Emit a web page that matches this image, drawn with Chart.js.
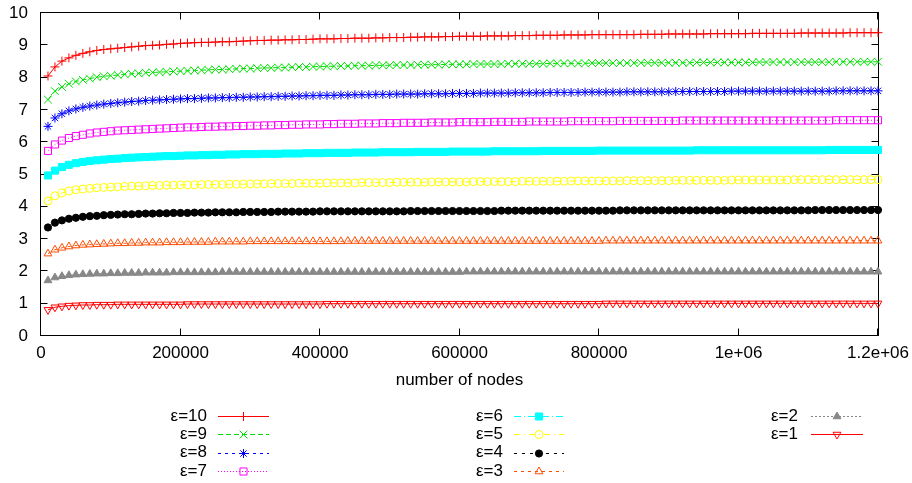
<!DOCTYPE html>
<html>
<head>
<meta charset="utf-8">
<script src="https://cdn.jsdelivr.net/npm/chart.js@4/dist/chart.umd.min.js"></script>
<style>
  html, body { margin: 0; padding: 0; background: #ffffff; }
  canvas { display: block; }
</style>
</head>
<body>
<canvas id="chart" width="912" height="483"></canvas>
<script>
// Number of nodes for every sample
const nodes = [
  10000, 20000, 30000, 40000, 50000, 60000, 70000, 80000, 90000, 100000,
  110000, 120000, 130000, 140000, 150000, 160000, 170000, 180000, 190000, 200000,
  210000, 220000, 230000, 240000, 250000, 260000, 270000, 280000, 290000, 300000,
  310000, 320000, 330000, 340000, 350000, 360000, 370000, 380000, 390000, 400000,
  410000, 420000, 430000, 440000, 450000, 460000, 470000, 480000, 490000, 500000,
  510000, 520000, 530000, 540000, 550000, 560000, 570000, 580000, 590000, 600000,
  610000, 620000, 630000, 640000, 650000, 660000, 670000, 680000, 690000, 700000,
  710000, 720000, 730000, 740000, 750000, 760000, 770000, 780000, 790000, 800000,
  810000, 820000, 830000, 840000, 850000, 860000, 870000, 880000, 890000, 900000,
  910000, 920000, 930000, 940000, 950000, 960000, 970000, 980000, 990000, 1000000,
  1010000, 1020000, 1030000, 1040000, 1050000, 1060000, 1070000, 1080000, 1090000, 1100000,
  1110000, 1120000, 1130000, 1140000, 1150000, 1160000, 1170000, 1180000, 1190000, 1200000
];

const eps10 = [
  8.05, 8.33, 8.51, 8.61, 8.69, 8.75, 8.80, 8.84, 8.87, 8.89,
  8.91, 8.93, 8.95, 8.97, 8.99, 9.00, 9.01, 9.03, 9.04, 9.06,
  9.07, 9.08, 9.09, 9.09, 9.10, 9.11, 9.11, 9.12, 9.13, 9.14,
  9.15, 9.15, 9.16, 9.16, 9.17, 9.17, 9.18, 9.18, 9.19, 9.20,
  9.20, 9.20, 9.21, 9.21, 9.22, 9.22, 9.22, 9.23, 9.23, 9.24,
  9.24, 9.24, 9.25, 9.25, 9.26, 9.26, 9.26, 9.27, 9.27, 9.28,
  9.28, 9.28, 9.28, 9.29, 9.29, 9.29, 9.29, 9.30, 9.30, 9.30,
  9.31, 9.31, 9.31, 9.31, 9.32, 9.32, 9.32, 9.32, 9.33, 9.33,
  9.33, 9.33, 9.33, 9.33, 9.33, 9.34, 9.34, 9.34, 9.34, 9.35,
  9.35, 9.35, 9.35, 9.35, 9.35, 9.36, 9.36, 9.36, 9.36, 9.36,
  9.36, 9.37, 9.37, 9.37, 9.37, 9.37, 9.37, 9.37, 9.38, 9.38,
  9.38, 9.38, 9.38, 9.38, 9.38, 9.39, 9.39, 9.39, 9.39, 9.39
];

const eps9 = [
  7.32, 7.58, 7.71, 7.81, 7.88, 7.93, 7.97, 8.01, 8.04, 8.06,
  8.08, 8.10, 8.12, 8.13, 8.15, 8.16, 8.17, 8.18, 8.19, 8.20,
  8.21, 8.22, 8.23, 8.24, 8.25, 8.25, 8.26, 8.27, 8.28, 8.28,
  8.29, 8.30, 8.30, 8.31, 8.31, 8.32, 8.33, 8.33, 8.34, 8.34,
  8.35, 8.35, 8.36, 8.36, 8.37, 8.37, 8.37, 8.38, 8.38, 8.38,
  8.39, 8.39, 8.39, 8.40, 8.40, 8.40, 8.40, 8.41, 8.41, 8.41,
  8.41, 8.42, 8.42, 8.42, 8.42, 8.42, 8.43, 8.43, 8.43, 8.43,
  8.43, 8.43, 8.44, 8.44, 8.44, 8.44, 8.44, 8.44, 8.45, 8.45,
  8.45, 8.45, 8.45, 8.45, 8.45, 8.46, 8.46, 8.46, 8.46, 8.46,
  8.46, 8.46, 8.46, 8.47, 8.47, 8.47, 8.47, 8.47, 8.47, 8.47,
  8.47, 8.47, 8.48, 8.48, 8.48, 8.48, 8.48, 8.48, 8.48, 8.48,
  8.48, 8.48, 8.48, 8.49, 8.49, 8.49, 8.49, 8.49, 8.49, 8.49
];

const eps8 = [
  6.49, 6.75, 6.88, 6.97, 7.03, 7.08, 7.12, 7.15, 7.18, 7.20,
  7.22, 7.24, 7.26, 7.27, 7.29, 7.30, 7.31, 7.32, 7.33, 7.34,
  7.35, 7.35, 7.36, 7.37, 7.37, 7.38, 7.38, 7.39, 7.39, 7.40,
  7.40, 7.41, 7.41, 7.42, 7.42, 7.43, 7.43, 7.44, 7.44, 7.45,
  7.45, 7.45, 7.46, 7.46, 7.47, 7.47, 7.47, 7.48, 7.48, 7.48,
  7.49, 7.49, 7.49, 7.49, 7.50, 7.50, 7.50, 7.50, 7.51, 7.51,
  7.51, 7.51, 7.52, 7.52, 7.52, 7.52, 7.52, 7.53, 7.53, 7.53,
  7.53, 7.53, 7.54, 7.54, 7.54, 7.54, 7.54, 7.55, 7.55, 7.55,
  7.55, 7.55, 7.55, 7.56, 7.56, 7.56, 7.56, 7.56, 7.56, 7.56,
  7.57, 7.57, 7.57, 7.57, 7.57, 7.57, 7.57, 7.57, 7.58, 7.58,
  7.58, 7.58, 7.58, 7.58, 7.58, 7.58, 7.58, 7.58, 7.58, 7.58,
  7.58, 7.58, 7.58, 7.59, 7.59, 7.59, 7.59, 7.59, 7.59, 7.59
];

const eps7 = [
  5.73, 5.93, 6.05, 6.13, 6.19, 6.23, 6.27, 6.30, 6.32, 6.34,
  6.36, 6.37, 6.38, 6.39, 6.40, 6.41, 6.42, 6.43, 6.44, 6.45,
  6.46, 6.46, 6.47, 6.48, 6.48, 6.49, 6.49, 6.50, 6.50, 6.51,
  6.51, 6.52, 6.52, 6.53, 6.53, 6.54, 6.54, 6.55, 6.55, 6.55,
  6.56, 6.56, 6.57, 6.57, 6.57, 6.58, 6.58, 6.58, 6.59, 6.59,
  6.59, 6.60, 6.60, 6.60, 6.60, 6.61, 6.61, 6.61, 6.61, 6.62,
  6.62, 6.62, 6.62, 6.62, 6.63, 6.63, 6.63, 6.63, 6.63, 6.64,
  6.64, 6.64, 6.64, 6.64, 6.64, 6.65, 6.65, 6.65, 6.65, 6.65,
  6.65, 6.65, 6.66, 6.66, 6.66, 6.66, 6.66, 6.66, 6.66, 6.66,
  6.66, 6.67, 6.67, 6.67, 6.67, 6.67, 6.67, 6.67, 6.67, 6.67,
  6.67, 6.67, 6.67, 6.67, 6.67, 6.67, 6.67, 6.67, 6.67, 6.67,
  6.67, 6.67, 6.67, 6.68, 6.68, 6.68, 6.68, 6.68, 6.68, 6.68
];

const eps6 = [
  4.97, 5.12, 5.23, 5.30, 5.35, 5.39, 5.42, 5.44, 5.46, 5.48,
  5.49, 5.51, 5.52, 5.53, 5.54, 5.55, 5.56, 5.57, 5.57, 5.58,
  5.59, 5.59, 5.60, 5.60, 5.61, 5.61, 5.62, 5.62, 5.63, 5.63,
  5.63, 5.64, 5.64, 5.64, 5.65, 5.65, 5.65, 5.66, 5.66, 5.66,
  5.67, 5.67, 5.67, 5.67, 5.68, 5.68, 5.68, 5.68, 5.69, 5.69,
  5.69, 5.69, 5.69, 5.70, 5.70, 5.70, 5.70, 5.70, 5.71, 5.71,
  5.71, 5.71, 5.71, 5.71, 5.72, 5.72, 5.72, 5.72, 5.72, 5.72,
  5.72, 5.73, 5.73, 5.73, 5.73, 5.73, 5.73, 5.73, 5.73, 5.74,
  5.74, 5.74, 5.74, 5.74, 5.74, 5.74, 5.74, 5.74, 5.74, 5.74,
  5.74, 5.74, 5.74, 5.75, 5.75, 5.75, 5.75, 5.75, 5.75, 5.75,
  5.75, 5.75, 5.75, 5.75, 5.75, 5.75, 5.75, 5.75, 5.75, 5.75,
  5.75, 5.75, 5.76, 5.76, 5.76, 5.76, 5.76, 5.76, 5.76, 5.76
];

const eps5 = [
  4.18, 4.34, 4.43, 4.49, 4.53, 4.55, 4.57, 4.59, 4.60, 4.61,
  4.62, 4.63, 4.64, 4.64, 4.65, 4.66, 4.66, 4.67, 4.67, 4.68,
  4.68, 4.68, 4.69, 4.69, 4.69, 4.69, 4.70, 4.70, 4.70, 4.71,
  4.71, 4.71, 4.72, 4.72, 4.72, 4.72, 4.73, 4.73, 4.73, 4.73,
  4.74, 4.74, 4.74, 4.74, 4.74, 4.75, 4.75, 4.75, 4.75, 4.75,
  4.76, 4.76, 4.76, 4.76, 4.76, 4.77, 4.77, 4.77, 4.77, 4.77,
  4.77, 4.78, 4.78, 4.78, 4.78, 4.78, 4.78, 4.78, 4.79, 4.79,
  4.79, 4.79, 4.79, 4.79, 4.79, 4.80, 4.80, 4.80, 4.80, 4.80,
  4.80, 4.80, 4.80, 4.81, 4.81, 4.81, 4.81, 4.81, 4.81, 4.81,
  4.82, 4.82, 4.82, 4.82, 4.82, 4.82, 4.82, 4.82, 4.83, 4.83,
  4.83, 4.83, 4.83, 4.83, 4.83, 4.83, 4.83, 4.84, 4.84, 4.84,
  4.84, 4.84, 4.84, 4.84, 4.84, 4.84, 4.84, 4.84, 4.84, 4.84
];

const eps4 = [
  3.36, 3.51, 3.58, 3.63, 3.66, 3.69, 3.71, 3.72, 3.74, 3.75,
  3.76, 3.77, 3.77, 3.78, 3.79, 3.79, 3.80, 3.80, 3.81, 3.81,
  3.81, 3.82, 3.82, 3.82, 3.83, 3.83, 3.83, 3.83, 3.84, 3.84,
  3.84, 3.84, 3.84, 3.85, 3.85, 3.85, 3.85, 3.85, 3.85, 3.86,
  3.86, 3.86, 3.86, 3.86, 3.86, 3.86, 3.86, 3.86, 3.86, 3.86,
  3.86, 3.86, 3.87, 3.87, 3.87, 3.87, 3.87, 3.87, 3.87, 3.87,
  3.87, 3.87, 3.87, 3.87, 3.87, 3.88, 3.88, 3.88, 3.88, 3.88,
  3.88, 3.88, 3.88, 3.88, 3.88, 3.88, 3.88, 3.88, 3.88, 3.88,
  3.88, 3.88, 3.89, 3.89, 3.89, 3.89, 3.89, 3.89, 3.89, 3.89,
  3.89, 3.89, 3.89, 3.89, 3.89, 3.89, 3.89, 3.89, 3.89, 3.89,
  3.89, 3.89, 3.89, 3.89, 3.89, 3.89, 3.89, 3.89, 3.89, 3.89,
  3.90, 3.90, 3.90, 3.90, 3.90, 3.90, 3.90, 3.90, 3.90, 3.90
];

const eps3 = [
  2.55, 2.67, 2.73, 2.77, 2.80, 2.82, 2.83, 2.84, 2.85, 2.86,
  2.87, 2.87, 2.88, 2.88, 2.89, 2.89, 2.89, 2.90, 2.90, 2.90,
  2.91, 2.91, 2.91, 2.91, 2.92, 2.92, 2.92, 2.92, 2.92, 2.93,
  2.93, 2.93, 2.93, 2.93, 2.93, 2.93, 2.93, 2.93, 2.93, 2.93,
  2.93, 2.93, 2.93, 2.94, 2.94, 2.94, 2.94, 2.94, 2.94, 2.94,
  2.94, 2.94, 2.94, 2.94, 2.94, 2.94, 2.94, 2.94, 2.94, 2.94,
  2.94, 2.94, 2.94, 2.94, 2.94, 2.94, 2.94, 2.94, 2.94, 2.94,
  2.94, 2.94, 2.94, 2.94, 2.94, 2.94, 2.94, 2.94, 2.94, 2.94,
  2.95, 2.95, 2.95, 2.95, 2.95, 2.95, 2.95, 2.95, 2.95, 2.95,
  2.95, 2.95, 2.95, 2.95, 2.95, 2.95, 2.95, 2.95, 2.95, 2.95,
  2.95, 2.95, 2.95, 2.95, 2.95, 2.95, 2.95, 2.95, 2.95, 2.95,
  2.95, 2.95, 2.95, 2.95, 2.95, 2.95, 2.95, 2.95, 2.95, 2.95
];

const eps2 = [
  1.72, 1.81, 1.85, 1.88, 1.90, 1.91, 1.92, 1.93, 1.93, 1.94,
  1.94, 1.95, 1.95, 1.95, 1.96, 1.96, 1.96, 1.96, 1.97, 1.97,
  1.97, 1.97, 1.97, 1.97, 1.97, 1.98, 1.98, 1.98, 1.98, 1.98,
  1.98, 1.98, 1.98, 1.98, 1.98, 1.98, 1.98, 1.98, 1.98, 1.98,
  1.98, 1.98, 1.98, 1.98, 1.98, 1.98, 1.98, 1.98, 1.98, 1.98,
  1.98, 1.98, 1.98, 1.98, 1.98, 1.98, 1.98, 1.98, 1.98, 1.98,
  1.99, 1.99, 1.99, 1.99, 1.99, 1.99, 1.99, 1.99, 1.99, 1.99,
  1.99, 1.99, 1.99, 1.99, 1.99, 1.99, 1.99, 1.99, 1.99, 1.99,
  1.99, 1.99, 1.99, 1.99, 1.99, 1.99, 1.99, 1.99, 1.99, 1.99,
  1.99, 1.99, 1.99, 1.99, 1.99, 1.99, 1.99, 1.99, 1.99, 1.99,
  1.99, 1.99, 1.99, 1.99, 1.99, 1.99, 1.99, 1.99, 1.99, 1.99,
  1.99, 1.99, 1.99, 1.99, 1.99, 1.99, 1.99, 1.99, 1.99, 1.99
];

const eps1 = [
  0.81, 0.89, 0.92, 0.94, 0.95, 0.96, 0.96, 0.97, 0.97, 0.97,
  0.98, 0.98, 0.98, 0.98, 0.98, 0.98, 0.98, 0.98, 0.98, 0.98,
  0.99, 0.99, 0.99, 0.99, 0.99, 0.99, 0.99, 0.99, 0.99, 0.99,
  0.99, 0.99, 0.99, 0.99, 0.99, 0.99, 0.99, 0.99, 0.99, 0.99,
  1.00, 1.00, 1.00, 1.00, 1.00, 1.00, 1.00, 1.00, 1.00, 1.00,
  1.00, 1.00, 1.00, 1.00, 1.00, 1.00, 1.00, 1.00, 1.00, 1.00,
  1.00, 1.00, 1.00, 1.00, 1.00, 1.00, 1.00, 1.00, 1.00, 1.00,
  1.00, 1.00, 1.00, 1.00, 1.00, 1.00, 1.00, 1.00, 1.00, 1.00,
  1.01, 1.01, 1.01, 1.01, 1.01, 1.01, 1.01, 1.01, 1.01, 1.01,
  1.01, 1.01, 1.01, 1.01, 1.01, 1.01, 1.01, 1.01, 1.01, 1.01,
  1.01, 1.01, 1.01, 1.01, 1.01, 1.01, 1.01, 1.01, 1.01, 1.01,
  1.01, 1.01, 1.01, 1.01, 1.01, 1.01, 1.01, 1.01, 1.01, 1.01
];

const seriesNames = ['ε=10', 'ε=9', 'ε=8', 'ε=7', 'ε=6', 'ε=5', 'ε=4', 'ε=3', 'ε=2', 'ε=1'];
const seriesValues = [eps10, eps9, eps8, eps7, eps6, eps5, eps4, eps3, eps2, eps1];
const xTickLabels = ['0', '200000', '400000', '600000', '800000', '1e+06', '1.2e+06'];
const yTickLabels = ['0', '1', '2', '3', '4', '5', '6', '7', '8', '9', '10'];
const xTitle = 'number of nodes';

const FONT = 'Liberation Sans, Arial, Helvetica, sans-serif';
const FONT_SIZE = 17;

// Line and marker style of each series (gnuplot-like linespoints)
const styles = [
  { color: '#ff0000', dash: [],           point: 'cross',    radius: 4.5, fill: false },
  { color: '#00e000', dash: [5, 3],       point: 'crossRot', radius: 5.5, fill: false },
  { color: '#0000ff', dash: [3, 4],       point: 'star',     radius: 4.5, fill: false },
  { color: '#ff00ff', dash: [1, 2],       point: 'rect',     radius: 5,   fill: false },
  { color: '#00ffff', dash: [7, 3, 1, 3], point: 'rect',     radius: 5,   fill: true  },
  { color: '#ffff00', dash: [6, 4, 1, 4], point: 'circle',   radius: 4,   fill: false },
  { color: '#000000', dash: [3, 5],       point: 'circle',   radius: 3.6, fill: true  },
  { color: '#ff4c00', dash: [3, 4],       point: 'triangle', radius: 4.5, fill: false },
  { color: '#888888', dash: [2, 2],       point: 'triangle', radius: 4.5, fill: true  },
  { color: '#ff0000', dash: [],           point: 'triangle', radius: 4.5, fill: false, rotation: 180 }
];

const datasets = seriesNames.map((name, k) => {
  const st = styles[k];
  return {
    label: name,
    data: nodes.map((n, i) => ({ x: n, y: seriesValues[k][i] })),
    borderColor: st.color,
    backgroundColor: st.color,
    borderWidth: 1,
    borderDash: st.dash,
    pointStyle: st.point,
    pointRadius: st.radius,
    pointHoverRadius: st.radius,
    pointRotation: st.rotation || 0,
    pointBorderColor: st.color,
    pointBackgroundColor: st.fill ? st.color : 'rgba(0,0,0,0)',
    pointBorderWidth: 1,
    fill: false,
    tension: 0,
    clip: false
  };
});

// Plot frame with inward tick marks on all four sides
const framePlugin = {
  id: 'frame',
  beforeDatasetsDraw(chart) {
    const { ctx, chartArea: a, scales } = chart;
    const L = a.left - 0.5, R = a.right + 0.5, T = a.top - 0.5, B = a.bottom - 0.5;
    ctx.save();
    ctx.strokeStyle = '#000';
    ctx.lineWidth = 1;
    ctx.setLineDash([]);
    const tick = 7;
    ctx.beginPath();
    scales.y.ticks.forEach(t => {
      const y = Math.round(scales.y.getPixelForValue(t.value)) - 0.5;
      ctx.moveTo(L, y); ctx.lineTo(L + tick, y);
      ctx.moveTo(R, y); ctx.lineTo(R - tick, y);
    });
    scales.x.ticks.forEach(t => {
      const x = Math.round(scales.x.getPixelForValue(t.value)) - 0.5;
      ctx.moveTo(x, B); ctx.lineTo(x, B - tick);
      ctx.moveTo(x, T); ctx.lineTo(x, T + tick);
    });
    ctx.stroke();
    ctx.strokeRect(L, T, R - L, B - T);
    ctx.restore();
  }
};

// Key below the plot: label on the left, line sample with marker on the right
const keyPlugin = {
  id: 'key',
  afterDraw(chart) {
    const ctx = chart.ctx;
    const cols = [
      { textRight: 207, x1: 218, x2: 269 },
      { textRight: 503, x1: 514, x2: 564 },
      { textRight: 798, x1: 811, x2: 863 }
    ];
    const rowY = [416, 434, 452.5, 471];
    ctx.save();
    ctx.font = FONT_SIZE + 'px ' + FONT;
    ctx.textAlign = 'right';
    ctx.textBaseline = 'middle';
    chart.data.datasets.forEach((ds, k) => {
      const c = cols[Math.floor(k / 4)];
      const y = rowY[k % 4];
      ctx.fillStyle = '#000';
      ctx.fillText(ds.label, c.textRight, y);
      const ly = Math.round(y) + 0.5;
      ctx.strokeStyle = ds.borderColor;
      ctx.lineWidth = 1;
      ctx.setLineDash(ds.borderDash);
      ctx.beginPath();
      ctx.moveTo(c.x1, ly);
      ctx.lineTo(c.x2, ly);
      ctx.stroke();
      ctx.setLineDash([]);
      ctx.fillStyle = ds.pointBackgroundColor;
      ctx.strokeStyle = ds.pointBorderColor;
      Chart.helpers.drawPoint(ctx, {
        pointStyle: ds.pointStyle,
        radius: ds.pointRadius,
        rotation: ds.pointRotation,
        borderWidth: 1
      }, (c.x1 + c.x2) / 2, ly);
    });
    ctx.restore();
  }
};

new Chart(document.getElementById('chart'), {
  type: 'line',
  data: { datasets },
  options: {
    responsive: false,
    animation: false,
    devicePixelRatio: 1,
    events: [],
    layout: { padding: { left: 0, top: 13, right: 34, bottom: 90 } },
    plugins: { legend: { display: false }, tooltip: { enabled: false }, title: { display: false } },
    scales: {
      x: {
        type: 'linear',
        min: 0,
        max: 1200000,
        grid: { display: false, drawTicks: false },
        border: { display: false },
        ticks: {
          stepSize: 200000,
          autoSkip: false,
          maxRotation: 0,
          padding: 7,
          color: '#000',
          font: { family: FONT, size: FONT_SIZE },
          callback: (v, i) => xTickLabels[i]
        },
        title: {
          display: true,
          text: xTitle,
          color: '#000',
          font: { family: FONT, size: FONT_SIZE },
          padding: { top: 0, bottom: 2 }
        },
        afterFit(scale) {
          scale.height = 57;
          scale.paddingLeft = 0;
          scale.paddingRight = 0;
        }
      },
      y: {
        min: 0,
        max: 10,
        grid: { display: false, drawTicks: false },
        border: { display: false },
        ticks: {
          stepSize: 1,
          padding: 13,
          color: '#000',
          font: { family: FONT, size: FONT_SIZE },
          callback: (v, i) => yTickLabels[i]
        },
        afterFit(scale) {
          scale.width = 41;
          scale.paddingTop = 0;
          scale.paddingBottom = 0;
        }
      }
    }
  },
  plugins: [framePlugin, keyPlugin]
});
</script>
</body>
</html>
